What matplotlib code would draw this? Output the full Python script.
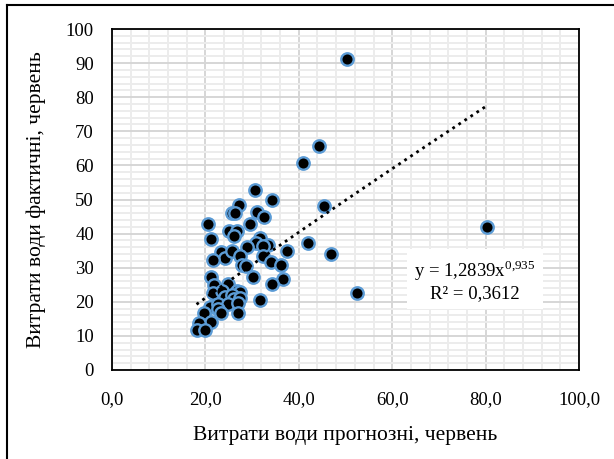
import matplotlib.pyplot as plt
import numpy as np
from matplotlib.lines import Line2D

plt.rcParams['font.family'] = ['Liberation Serif', 'DejaVu Serif']
plt.rcParams['mathtext.fontset'] = 'custom'
plt.rcParams['mathtext.rm'] = 'Liberation Serif'

# forecast (x) vs actual (y) water consumption, June
forecast = [30.6, 34.3, 27.2, 25.6, 26.3, 31.1, 32.6, 20.6, 29.6, 25.0,
            26.8, 26.1, 21.2, 31.7, 33.5, 30.9, 32.4, 23.4, 24.3, 25.8,
            29.0, 27.4, 32.4, 37.5, 42.0, 21.7, 34.0, 36.2, 27.8, 28.6,
            47.0, 21.3, 30.1, 36.7, 34.3, 21.9, 24.9, 21.7, 23.5, 26.7,
            27.4, 24.2, 25.6, 26.2, 27.4, 31.6, 21.0, 22.6, 24.8, 27.0,
            22.8, 23.3, 26.9, 19.6, 21.2, 18.6, 18.1, 19.9, 50.4, 44.4,
            40.8, 45.5, 80.4, 52.5]
actual = [52.8, 50.0, 48.4, 46.1, 46.0, 46.4, 44.8, 42.8, 42.8, 40.7,
          40.9, 39.2, 38.3, 38.6, 36.7, 37.3, 36.3, 34.5, 32.8, 34.9,
          36.0, 33.4, 33.4, 34.8, 37.3, 32.3, 31.7, 30.7, 30.8, 30.5,
          33.9, 27.4, 27.2, 26.6, 25.2, 24.9, 25.2, 22.7, 23.3, 23.3,
          23.0, 21.5, 22.0, 20.7, 21.0, 20.5, 18.6, 19.5, 19.5, 19.6,
          17.8, 16.6, 16.8, 16.6, 14.2, 13.9, 11.7, 11.7, 91.1, 65.7,
          60.8, 48.1, 41.8, 22.6]

# power trendline as printed on the chart
coef_a = 1.2839
coef_b = 0.935
r2_text = '0,3612'

W, H = 614, 459
fig = plt.figure(figsize=(W / 100, H / 100), dpi=100)
ax = fig.add_axes([112 / W, (H - 370) / H, (579 - 112) / W, (370 - 29) / H])

ax.set_xlim(0, 100)
ax.set_ylim(0, 100)
ax.set_xticks(np.arange(0, 101, 20))
ax.set_yticks(np.arange(0, 101, 10))
ax.set_xticks(np.arange(0, 101, 4), minor=True)
ax.set_yticks(np.arange(0, 101, 2), minor=True)
ax.set_xticklabels([f'{v:.1f}'.replace('.', ',') for v in np.arange(0, 101, 20)])
ax.grid(True, which='minor', color='#ececec', linewidth=1.4)
ax.grid(True, which='major', color='#d6d6d6', linewidth=1.4)
ax.set_axisbelow(True)
ax.tick_params(which='both', length=0, labelsize=13.5)
ax.tick_params(axis='x', pad=15)
ax.tick_params(axis='y', pad=13)
for s in ax.spines.values():
    s.set_color('black')
    s.set_linewidth(1.3)

ax.scatter(forecast, actual, s=80, c='black', edgecolors='#5b9bd5',
           linewidths=1.7, zorder=3)

xt = np.linspace(min(forecast), max(forecast), 200)
ax.plot(xt, coef_a * xt ** coef_b, color='black', linestyle=(0, (1, 1.6)),
        linewidth=2.0, zorder=4)

eq = f'y = {coef_a}'.replace('.', ',') + r'x$^{\mathrm{0{,}935}}$' + '\n' + 'R² = ' + r2_text
ax.text(77.7, 26.3, eq, ha='center', va='center', fontsize=13.5,
        linespacing=1.2, zorder=5,
        bbox=dict(facecolor='white', edgecolor='none', pad=5))

ax.set_xlabel('Витрати води прогнозні, червень', fontsize=15.5, labelpad=13)
ax.set_ylabel('Витрати води фактичні, червень', fontsize=15.5, labelpad=14)

# chart-area border: only top and left edges are visible in the source
fig.lines.append(Line2D([7 / W, 1], [1 - 5 / H, 1 - 5 / H],
                        transform=fig.transFigure, color='black', linewidth=1.5))
fig.lines.append(Line2D([7 / W, 7 / W], [0, 1 - 5 / H],
                        transform=fig.transFigure, color='black', linewidth=1.5))

fig.savefig('out.png', dpi=100)
